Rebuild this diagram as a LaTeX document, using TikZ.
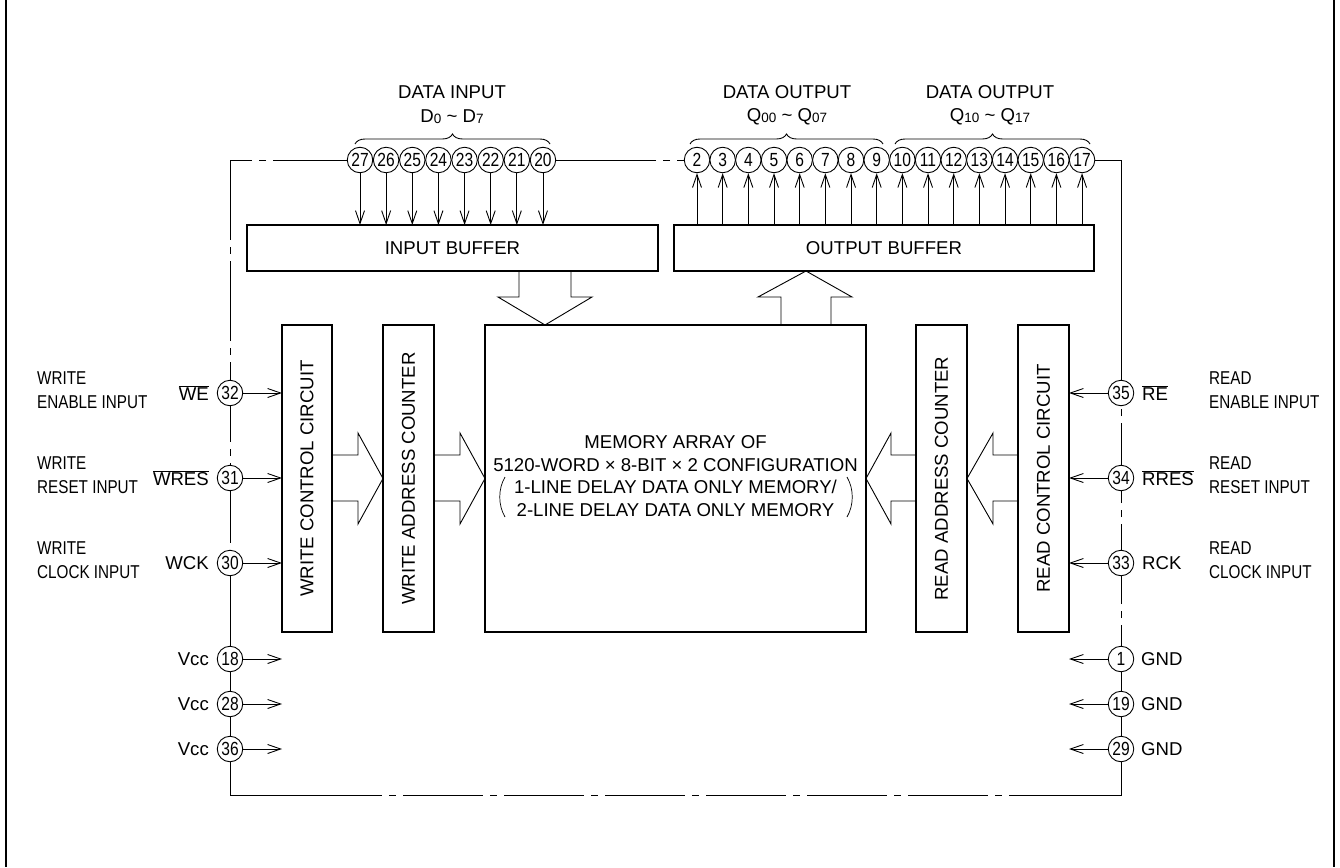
\documentclass[tikz,border=0pt]{standalone}
\usepackage{fontspec}
\setmainfont{Liberation Sans}
\newfontfamily\condfont[FakeStretch=0.82]{Liberation Sans}
\newfontfamily\pinfont[FakeStretch=0.82]{Liberation Sans}
\usetikzlibrary{arrows.meta,decorations.pathreplacing}
\newcommand\subs[1]{\raisebox{-1pt}{\fontsize{13.5}{13.5}\selectfont #1}}
\begin{document}
\begin{tikzpicture}[x=1pt,y=-1pt,
  font=\fontsize{18.6}{22}\selectfont,
  box/.style={draw,line width=1.8pt,inner sep=0pt,outer sep=0pt},
  pin/.style={draw,circle,line width=0.9pt,minimum size=25.5pt,inner sep=0pt,fill=white,font=\pinfont\fontsize{19}{19}\selectfont},
  sig/.style={line width=0.9pt,-{Straight Barb[length=13pt,width=9pt,line width=0.9pt]}},
  frm/.style={line width=0.9pt,dash pattern=on 80pt off 7pt on 7pt off 7pt},
  blk/.style={draw,line width=0.9pt},
  lbl/.style={inner sep=0pt},
  desc/.style={inner sep=0pt,align=left,font=\condfont\fontsize{18.6}{24}\selectfont},
  brc/.style={decorate,decoration={brace,amplitude=10pt},line width=0.9pt}]
\useasboundingbox (0,0) rectangle (1340,867);
% outer sheet frame
\draw[line width=2pt] (6,0) -- (6,867);
\draw[line width=2pt] (1334,0) -- (1334,867);

% chip boundary
\draw[frm] (230,160) rectangle (1121,795);
\draw[line width=0.9pt] (556,160) -- (632,160);
\draw[line width=0.9pt] (1095,160) -- (1121,160) -- (1121,332);
\draw[line width=0.9pt] (230,636) -- (230,795) -- (333,795);
\draw[line width=0.9pt] (1121,636) -- (1121,795) -- (1045,795);

% blocks
\node[box,minimum width=411pt,minimum height=46pt] (ib) at (452.5,248) {INPUT BUFFER};
\node[box,minimum width=420pt,minimum height=46pt] (ob) at (884,248) {OUTPUT BUFFER};
\node[box,minimum width=50pt,minimum height=307pt] (wc) at (307,478.5) {\rotatebox{90}{WRITE CONTROL CIRCUIT}};
\node[box,minimum width=51pt,minimum height=307pt] (wa) at (408.5,478.5) {\rotatebox{90}{WRITE ADDRESS COUNTER}};
\node[box,minimum width=381pt,minimum height=307pt] (mem) at (675.5,478.5) {};
\node[inner sep=0pt,align=center,font=\fontsize{18.6}{22.5}\selectfont] (memt) at (675.5,476)
  {MEMORY ARRAY OF\\5120-WORD × 8-BIT × 2 CONFIGURATION\\1-LINE DELAY DATA ONLY MEMORY/\\2-LINE DELAY DATA ONLY MEMORY};
\node[box,minimum width=51pt,minimum height=307pt] (ra) at (941.5,478.5) {\rotatebox{90}{READ ADDRESS COUNTER}};
\node[box,minimum width=51pt,minimum height=307pt] (rc) at (1043.5,478.5) {\rotatebox{90}{READ CONTROL CIRCUIT}};

% parentheses in memory text
\draw[line width=0.7pt] (505,477) .. controls (498,489) and (498,505) .. (505,517);
\draw[line width=0.7pt] (847,477) .. controls (854,489) and (854,505) .. (847,517);

% block arrows
\draw[blk] (519,271) -- (519,297) -- (498,297) -- (545,325) -- (592,297) -- (571,297) -- (571,271);
\draw[blk] (781,325) -- (781,297) -- (758,297) -- (806,271) -- (852,297) -- (831,297) -- (831,325);
\draw[blk] (332,455) -- (358,455) -- (358,433) -- (383,478.5) -- (358,524) -- (358,501) -- (332,501);
\draw[blk] (434,455) -- (460,455) -- (460,433) -- (485,478.5) -- (460,524) -- (460,501) -- (434,501);
\draw[blk] (1018,455) -- (993,455) -- (993,433) -- (967,478.5) -- (993,524) -- (993,501) -- (1018,501);
\draw[blk] (916,455) -- (891,455) -- (891,433) -- (866,478.5) -- (891,524) -- (891,501) -- (916,501);

% data input pins
\foreach \n [count=\i from 0] in {27,26,25,24,23,22,21,20} {
  \node[pin] (p\n) at (360+26.14*\i,160) {\n};
  \draw[sig] (p\n) -- (p\n |- ib.north);
}
% data output pins
\foreach \n [count=\i from 0] in {2,3,4,5,6,7,8,9,10,11,12,13,14,15,16,17} {
  \node[pin] (p\n) at (697+25.67*\i,160) {\n};
  \draw[sig] (p\n |- ob.north) -- (p\n);
}

% braces and top labels
\draw[brc] (355,144) -- (550,144);
\draw[brc] (690,144) -- (883,144);
\draw[brc] (895,144) -- (1090,144);
\node[lbl] (tdi) at (452,92) {DATA INPUT};
\node[lbl] (tdin) at (452,117) {D\subs{0} \textasciitilde{} D\subs{7}};
\node[lbl] (tdo1) at (787,92) {DATA OUTPUT};
\node[lbl] (tdo1n) at (787,117) {Q\subs{00} \textasciitilde{} Q\subs{07}};
\node[lbl] (tdo2) at (990,92) {DATA OUTPUT};
\node[lbl] (tdo2n) at (990,117) {Q\subs{10} \textasciitilde{} Q\subs{17}};

% left control pins
\node[pin] (p32) at (230,393) {32};
\node[pin] (p31) at (230,478) {31};
\node[pin] (p30) at (230,563) {30};
\foreach \n in {32,31,30} { \draw[sig] (p\n) -- (p\n -| wc.west); }
\node[lbl,anchor=east] (nwe) at (209,393) {$\overline{\hbox{WE}}$};
\node[lbl,anchor=east] (nwres) at (209,478) {$\overline{\hbox{WRES}}$};
\node[lbl,anchor=east] (nwck) at (209,563) {WCK};
\node[desc,anchor=west] (dwe) at (37,390) {WRITE\\ENABLE INPUT};
\node[desc,anchor=west] (dwres) at (37,475) {WRITE\\RESET INPUT};
\node[desc,anchor=west] (dwck) at (37,560) {WRITE\\CLOCK INPUT};

% right control pins
\node[pin] (p35) at (1121,393) {35};
\node[pin] (p34) at (1121,478) {34};
\node[pin] (p33) at (1121,563) {33};
\foreach \n in {35,34,33} { \draw[sig] (p\n) -- (p\n -| rc.east); }
\node[lbl,anchor=west] (nre) at (1142,393) {$\overline{\hbox{RE}}$};
\node[lbl,anchor=west] (nrres) at (1142,478) {$\overline{\hbox{RRES}}$};
\node[lbl,anchor=west] (nrck) at (1142,563) {RCK};
\node[desc,anchor=west] (dre) at (1209,390) {READ\\ENABLE INPUT};
\node[desc,anchor=west] (drres) at (1209,475) {READ\\RESET INPUT};
\node[desc,anchor=west] (drck) at (1209,560) {READ\\CLOCK INPUT};

% power pins
\foreach \n/\yy in {18/659,28/704,36/749} {
  \node[pin] (p\n) at (230,\yy) {\n};
  \draw[sig] (p\n) -- (p\n -| wc.west);
  \node[lbl,anchor=east] (v\n) at (209,\yy) {Vcc};
}
\foreach \n/\yy in {1/659,19/704,29/749} {
  \node[pin] (p\n) at (1121,\yy) {\n};
  \draw[sig] (p\n) -- (p\n -| rc.east);
  \node[lbl,anchor=west] (g\n) at (1141,\yy) {GND};
}
\end{tikzpicture}
\end{document}
